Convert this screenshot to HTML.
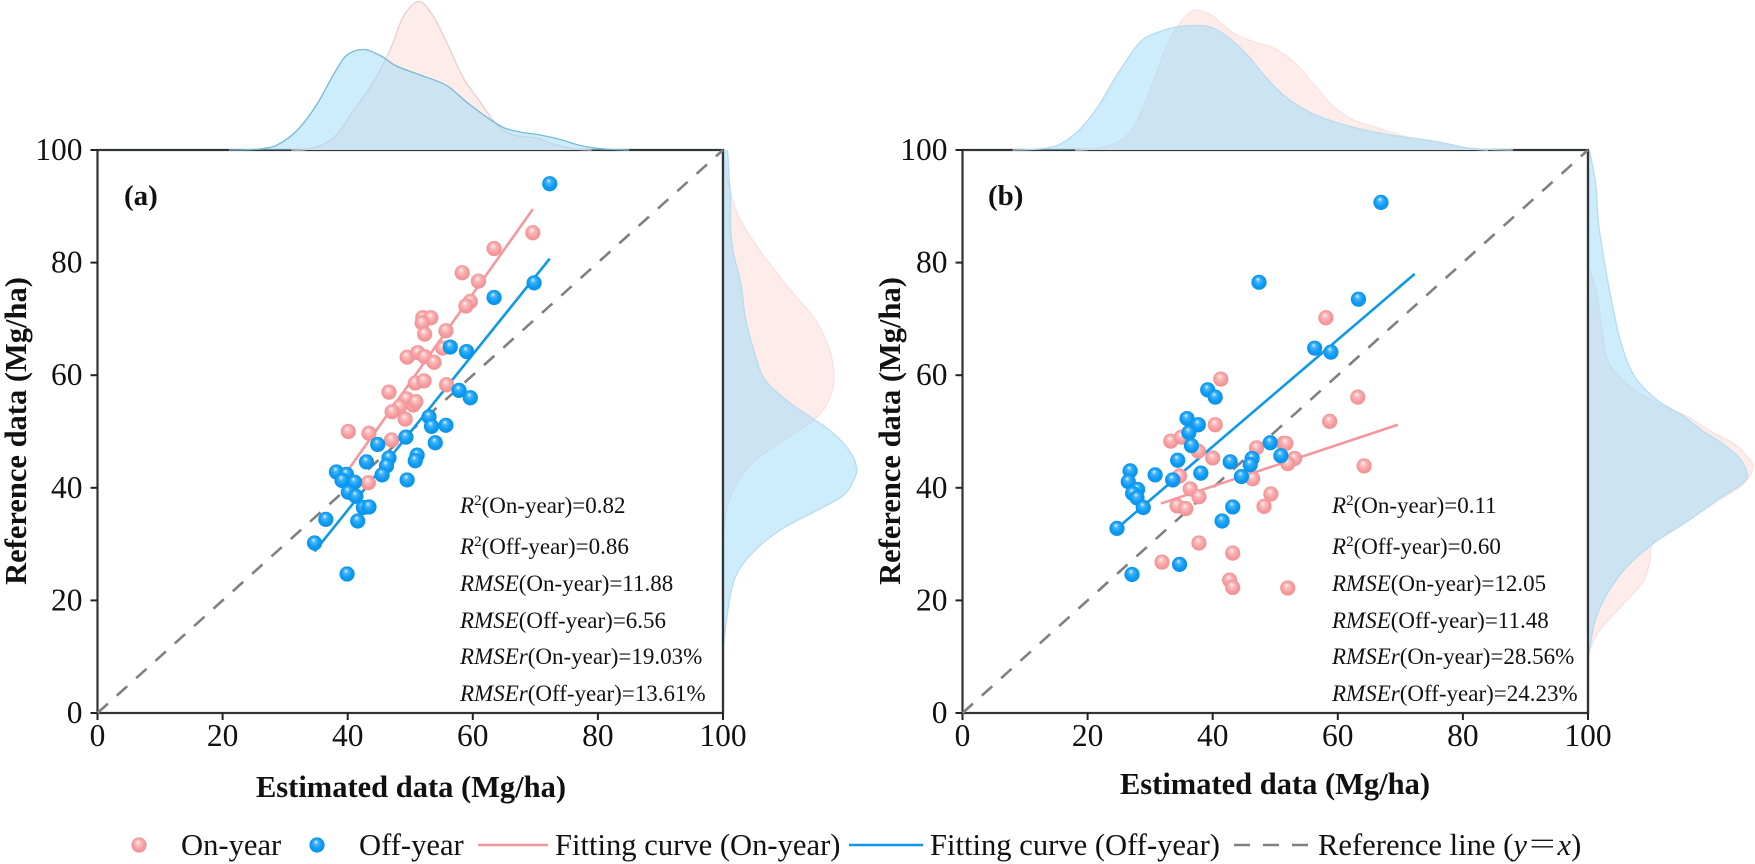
<!DOCTYPE html>
<html lang="en">
<head>
<meta charset="utf-8">
<title>Estimated vs reference data</title>
<style>
html,body{margin:0;padding:0;background:#fff;width:1755px;height:864px;overflow:hidden}
svg{display:block}
text{font-family:"Liberation Serif","Noto Serif CJK SC",serif;fill:#111}
.tick{font-size:31.5px}
.title{font-size:30.5px;font-weight:bold;text-anchor:middle}
.tag{font-size:29px;font-weight:bold}
.stat{font-size:23px}
.stat tspan.i{font-style:italic}
.leg{font-size:30.6px}
</style>
</head>
<body>
<svg id="chart" xmlns="http://www.w3.org/2000/svg" width="1755" height="864" viewBox="0 0 1755 864">
<defs>
<radialGradient id="ball-on" cx="0.5" cy="0.5" r="0.55" fx="0.42" fy="0.3">
<stop offset="0" stop-color="#fff4f4"/><stop offset="0.3" stop-color="#fabcbd"/><stop offset="0.7" stop-color="#f59a9c"/><stop offset="1" stop-color="#ef8f92"/>
</radialGradient>
<radialGradient id="ball-off" cx="0.5" cy="0.5" r="0.55" fx="0.42" fy="0.28">
<stop offset="0" stop-color="#e2f5ff"/><stop offset="0.27" stop-color="#45b4f8"/><stop offset="0.65" stop-color="#0c9bf4"/><stop offset="1" stop-color="#0b8fe4"/>
</radialGradient>
</defs>
<g id="layer-a"></g>
<g id="layer-b"></g>

<text class="tag" x="124" y="205">(a)</text>
<text class="tag" x="988" y="205">(b)</text>
<text class="title" x="411" y="797">Estimated data (Mg/ha)</text>
<text class="title" x="1275" y="794">Estimated data (Mg/ha)</text>
<text class="title" transform="translate(26 431) rotate(-90)">Reference data (Mg/ha)</text>
<text class="title" transform="translate(900 431) rotate(-90)">Reference data (Mg/ha)</text>

<g>
<text class="stat" x="460" y="513"><tspan class="i">R</tspan><tspan dy="-8" font-size="15">2</tspan><tspan dy="8">(On-year)=0.82</tspan></text>
<text class="stat" x="460" y="554"><tspan class="i">R</tspan><tspan dy="-8" font-size="15">2</tspan><tspan dy="8">(Off-year)=0.86</tspan></text>
<text class="stat" x="460" y="591"><tspan class="i">RMSE</tspan>(On-year)=11.88</text>
<text class="stat" x="460" y="628"><tspan class="i">RMSE</tspan>(Off-year)=6.56</text>
<text class="stat" x="460" y="664"><tspan class="i">RMSEr</tspan>(On-year)=19.03%</text>
<text class="stat" x="460" y="701"><tspan class="i">RMSEr</tspan>(Off-year)=13.61%</text>
</g>
<g>
<text class="stat" x="1332" y="513"><tspan class="i">R</tspan><tspan dy="-8" font-size="15">2</tspan><tspan dy="8">(On-year)=0.11</tspan></text>
<text class="stat" x="1332" y="554"><tspan class="i">R</tspan><tspan dy="-8" font-size="15">2</tspan><tspan dy="8">(Off-year)=0.60</tspan></text>
<text class="stat" x="1332" y="591"><tspan class="i">RMSE</tspan>(On-year)=12.05</text>
<text class="stat" x="1332" y="628"><tspan class="i">RMSE</tspan>(Off-year)=11.48</text>
<text class="stat" x="1332" y="664"><tspan class="i">RMSEr</tspan>(On-year)=28.56%</text>
<text class="stat" x="1332" y="701"><tspan class="i">RMSEr</tspan>(Off-year)=24.23%</text>
</g>

<g>
<g>
<circle cx="139" cy="845" r="7.6" fill="url(#ball-on)"/>
<text class="leg" x="181" y="855">On-year</text>
</g>
<g>
<circle cx="317" cy="845" r="7.6" fill="url(#ball-off)"/>
<text class="leg" x="359" y="855">Off-year</text>
</g>
<g>
<line x1="478" y1="845" x2="548" y2="845" stroke="#f5989d" stroke-width="2.6"/>
<text class="leg" x="555" y="855">Fitting curve (On-year)</text>
</g>
<g>
<line x1="849" y1="845" x2="923" y2="845" stroke="#0f98ea" stroke-width="2.6"/>
<text class="leg" x="930" y="855">Fitting curve (Off-year)</text>
</g>
<g>
<line x1="1234" y1="845" x2="1309" y2="845" stroke="#808080" stroke-width="2.6" stroke-dasharray="16 13"/>
<text class="leg" x="1318" y="855">Reference line (<tspan font-style="italic">y</tspan>＝<tspan font-style="italic">x</tspan>)</text>
</g>
</g>
</svg>
<script>
// ---- axis ticks ----
const xTicks = [0, 20, 40, 60, 80, 100];
const yTicks = [0, 20, 40, 60, 80, 100];

// ---- panel (a) scatter ----
const aOnX = [69.6,63.4,58.3,60.9,59.6,58.9,52.0,53.3,51.9,55.7,52.3,55.2,49.5,51.2,52.3,53.8,50.8,52.2,55.8,46.6,49.4,50.5,50.9,48.3,47.1,49.2,40.1,43.4,47.0,43.3];
const aOnY = [85.3,82.5,78.2,76.7,73.1,72.3,70.2,70.2,69.3,67.9,67.3,64.8,63.2,64.0,63.3,62.3,58.6,59.0,58.3,57.0,55.8,54.7,55.3,54.4,53.5,52.2,50.0,49.7,48.5,40.9];
const aOffX = [72.3,69.8,63.4,56.4,59.0,57.8,59.6,53.0,53.4,55.7,49.3,44.8,54.0,51.1,50.8,46.6,46.2,45.5,43.0,49.5,38.2,39.8,39.1,41.1,40.1,41.3,42.5,43.4,36.5,41.6,34.7,39.9];
const aOffY = [94.0,76.4,73.8,65.0,64.2,57.3,56.0,52.6,50.9,51.1,49.0,47.7,48.0,45.8,44.8,45.3,43.9,42.3,44.6,41.4,42.8,42.4,41.3,41.0,39.2,38.5,36.5,36.6,34.4,34.1,30.2,24.7];
const aFitOnX = [40.1, 69.6];
const aFitOnY = [43.2, 89.5];
const aFitOffX = [34.7, 72.3];
const aFitOffY = [28.7, 80.7];

// ---- panel (b) scatter ----
const bOnX = [58.1,41.3,40.4,63.2,58.7,33.3,35.0,37.7,40.0,47.0,51.3,51.7,53.1,52.0,46.4,34.7,33.7,36.4,37.8,49.3,48.2,34.3,35.7,37.8,43.2,31.9,42.7,43.2,52.0,64.2];
const bOnY = [70.2,59.3,51.2,56.1,51.8,48.3,49.0,46.5,45.3,47.1,47.9,47.9,45.2,44.3,41.6,42.1,41.4,39.8,38.4,38.9,36.7,36.8,36.3,30.2,28.4,26.8,23.6,22.3,22.2,43.9];
const bOffX = [66.9,47.4,63.3,56.3,58.9,39.2,40.4,35.9,37.7,36.2,36.6,34.4,49.2,50.9,46.3,46.0,44.6,42.8,38.1,30.8,33.6,26.8,26.5,28.0,27.2,27.9,28.9,24.7,43.2,41.5,34.7,27.1];
const bOffY = [90.7,76.5,73.5,64.8,64.1,57.4,56.1,52.3,51.2,49.8,47.5,44.9,48.0,45.7,45.2,44.1,42.0,44.6,42.6,42.3,41.4,43.0,41.1,39.7,39.0,38.2,36.5,32.8,36.6,34.1,26.4,24.6];
const bFitOnX = [31.7, 69.6];
const bFitOnY = [37.2, 51.2];
const bFitOffX = [24.7, 72.3];
const bFitOffY = [32.8, 78.0];

// ---- marginal densities (relative density, read at the listed data values) ----
const aTopOnV = [31,34,37.7,40.9,44.1,46.8,48.9,51.4,53.7,55.8,58.5,61.2,63.8,66.5,70.2,72.9,76.1,79];
const aTopOnD = [0,0.8,8,26,45,67,89,99,89,72,48,32,17,10,8,4,0.8,0];
const aTopOffV = [21,24,26.5,28.7,31.9,35,37.7,39.8,42.5,45.2,47.8,51.6,55.8,59,62.2,64.9,67.6,70.8,74,77.2,80.9,85];
const aTopOffD = [0,0.2,1,3.3,13,30,50,63,67,63,56,50,43,32,22,15,12,10,7,3,0.7,0];
const aRightOnV = [29,31.5,36.9,41.6,45,48.4,51.9,55.2,59.2,63,66,70.1,74.8,81.6,88.4,95,100];
const aRightOnD = [0,0.5,3,11,22,40,60,70,74,72.5,69,61,46,26,10,3,0];
const aRightOffV = [9.8,15.9,24,29.1,32.8,35.9,38.6,41.3,43.7,46.7,49.8,52.1,55.2,59.2,64,70,76.2,81.6,86.3,91,95.8,100];
const aRightOffD = [0,2,8,22,40,62,80,87,89,84,73,61,44,28,21,15,12,7,5,5,4,3];

const bTopOnV = [18,20.9,24.7,27.3,30,32.6,34.8,36.4,38,40.1,43.3,46,49.7,52.9,56.1,59.3,62.5,66.2,70,75.3,80.6,84];
const bTopOnD = [0,0.7,5,15,40,69,85,92,93,89,78,73,68,59,44,29,20,15,10,5,1,0];
const bTopOffV = [8,11.9,15.1,18.3,21.5,24.7,28.4,31.6,34.2,36.9,39.6,42.2,45.4,48.6,51.8,55.6,59.3,64.6,70,75.3,80.6,84,88];
const bTopOffD = [0,0.6,3,12,28,50,72,79,82,83,82,76,64,48,35,25,19,13,9,6,1.5,0.4,0];
const bRightOnV = [8.9,11.8,14.8,18.9,23.1,26.6,30.5,33.7,37.6,40.5,43.5,45.3,47.9,50,52.7,55,58,62.1,66.9,74,79.9];
const bRightOnD = [0,2,8,22,36,41,44,64,86,103,110,107,97,82,66,46,28,14,10,6,0];
const bRightOffV = [7.7,11.2,16.6,21.3,26,30.2,34,38.2,40.8,42.6,45.6,48.5,50,53,55.6,59.8,65.7,72.8,79.9,87,94.1,99.9];
const bRightOffD = [0,1,5,13,26,44,66,88,103,106,100,86,77,62,46,31,22,16,11,7,5,1];

const NS = 'http://www.w3.org/2000/svg';
const PLOT_W = 625.5, PLOT_H = 563, BOTTOM = 713, TOP = 150;
const DENSITY_PX = 1.5;
const DOMAIN = 100;

function make(parent, tag, name, attrs) {
  const el = document.createElementNS(NS, tag);
  for (const k in attrs) el.setAttribute(k, attrs[k]);
  
  
  parent.appendChild(el);
  return el;
}

function smooth(pts) {
  let d = 'M' + pts[0][0].toFixed(1) + ' ' + pts[0][1].toFixed(1);
  for (let i = 0; i < pts.length - 1; i++) {
    const p0 = pts[Math.max(0, i - 1)], p1 = pts[i], p2 = pts[i + 1], p3 = pts[Math.min(pts.length - 1, i + 2)];
    const c1x = p1[0] + (p2[0] - p0[0]) / 6, c1y = p1[1] + (p2[1] - p0[1]) / 6;
    const c2x = p2[0] - (p3[0] - p1[0]) / 6, c2y = p2[1] - (p3[1] - p1[1]) / 6;
    d += 'C' + c1x.toFixed(1) + ' ' + c1y.toFixed(1) + ' ' + c2x.toFixed(1) + ' ' + c2y.toFixed(1) + ' ' + p2[0].toFixed(1) + ' ' + p2[1].toFixed(1);
  }
  return d;
}

function drawPanel(id, left, s) {
  const g = document.getElementById(id);
  const xs = v => left + v / DOMAIN * PLOT_W;
  const ys = v => BOTTOM - v / DOMAIN * PLOT_H;
  const right = xs(DOMAIN);

  // frame
  make(g, 'rect', s.key + '-plot-frame', {x: left, y: TOP, width: PLOT_W, height: PLOT_H, fill: 'none', stroke: '#2f3438', 'stroke-width': 2.2});

  // ticks and tick labels
  xTicks.forEach(t => {
    make(g, 'line', s.key + '-x-tick', {x1: xs(t), x2: xs(t), y1: BOTTOM, y2: BOTTOM + 7, stroke: '#222', 'stroke-width': 2});
    const lab = make(g, 'text', s.key + '-x-tick-label', {x: xs(t), y: 746, 'text-anchor': 'middle', class: 'tick'});
    lab.textContent = t;
  });
  yTicks.forEach(t => {
    make(g, 'line', s.key + '-y-tick', {x1: left - 7, x2: left, y1: ys(t), y2: ys(t), stroke: '#222', 'stroke-width': 2});
    const lab = make(g, 'text', s.key + '-y-tick-label', {x: left - 15, y: ys(t) + 10, 'text-anchor': 'end', class: 'tick'});
    lab.textContent = t;
  });

  // marginal densities
  const topPts = (V, D) => V.map((v, i) => [xs(v), TOP - D[i] * DENSITY_PX]);
  const rightPts = (V, D) => V.map((v, i) => [right + D[i] * DENSITY_PX, ys(v)]);

  const area = (name, pts, fill, stroke, closeA, closeB) => {
    const line = smooth(pts);
    make(g, 'path', name + '-fill', {d: line + 'L' + closeA + 'L' + closeB + 'Z', fill: fill, stroke: 'none'});
    make(g, 'path', name + '-outline', {d: line, fill: 'none', stroke: stroke, 'stroke-width': 1.3});
  };

  const tOn = topPts(s.topOnV, s.topOnD), tOff = topPts(s.topOffV, s.topOffD);
  const rOn = rightPts(s.rightOnV, s.rightOnD), rOff = rightPts(s.rightOffV, s.rightOffD);
  const cl = p => p[0] + ' ' + p[1];

  area(s.key + '-top-density-on-year', tOn, '#fdecea', s.topOnStroke, cl([tOn[tOn.length - 1][0], TOP]), cl([tOn[0][0], TOP]));
  area(s.key + '-top-density-off-year', tOff, 'rgba(155,217,249,0.5)', s.topOffStroke, cl([tOff[tOff.length - 1][0], TOP]), cl([tOff[0][0], TOP]));
  area(s.key + '-right-density-on-year', rOn, '#fdecea', '#f6e2e1', cl([right, rOn[rOn.length - 1][1]]), cl([right, rOn[0][1]]));
  area(s.key + '-right-density-off-year', rOff, 'rgba(155,217,249,0.5)', '#b7dcee', cl([right, rOff[rOff.length - 1][1]]), cl([right, rOff[0][1]]));

  // right spine stays dark above the right-hand density fills
  make(g, 'line', s.key + '-right-spine', {x1: right, x2: right, y1: TOP, y2: BOTTOM, stroke: '#2f3438', 'stroke-width': 2.2});

  // reference line
  make(g, 'line', s.key + '-reference-line', {x1: xs(0), y1: ys(0), x2: xs(DOMAIN), y2: ys(DOMAIN), stroke: '#808080', 'stroke-width': 2.6, 'stroke-dasharray': '14 12'});

  // fitted lines
  make(g, 'line', s.key + '-fit-line-on-year', {x1: xs(s.fitOnX[0]), y1: ys(s.fitOnY[0]), x2: xs(s.fitOnX[1]), y2: ys(s.fitOnY[1]), stroke: '#f5989d', 'stroke-width': 2.6});
  make(g, 'line', s.key + '-fit-line-off-year', {x1: xs(s.fitOffX[0]), y1: ys(s.fitOffY[0]), x2: xs(s.fitOffX[1]), y2: ys(s.fitOffY[1]), stroke: '#0f98ea', 'stroke-width': 2.6});

  // points
  s.onX.forEach((v, i) => {
    make(g, 'circle', s.key + '-point-on-year', {cx: xs(v), cy: ys(s.onY[i]), r: 7.6, fill: 'url(#ball-on)'});
  });
  s.offX.forEach((v, i) => {
    make(g, 'circle', s.key + '-point-off-year', {cx: xs(v), cy: ys(s.offY[i]), r: 7.6, fill: 'url(#ball-off)'});
  });
}

drawPanel('layer-a', 97.5, {
  key: 'panel-a', onX: aOnX, onY: aOnY, offX: aOffX, offY: aOffY,
  fitOnX: aFitOnX, fitOnY: aFitOnY, fitOffX: aFitOffX, fitOffY: aFitOffY,
  topOnV: aTopOnV, topOnD: aTopOnD, topOffV: aTopOffV, topOffD: aTopOffD,
  rightOnV: aRightOnV, rightOnD: aRightOnD, rightOffV: aRightOffV, rightOffD: aRightOffD,
  topOnStroke: '#e6d0d0', topOffStroke: '#72bcd4'
});
drawPanel('layer-b', 962.5, {
  key: 'panel-b', onX: bOnX, onY: bOnY, offX: bOffX, offY: bOffY,
  fitOnX: bFitOnX, fitOnY: bFitOnY, fitOffX: bFitOffX, fitOffY: bFitOffY,
  topOnV: bTopOnV, topOnD: bTopOnD, topOffV: bTopOffV, topOffD: bTopOffD,
  rightOnV: bRightOnV, rightOnD: bRightOnD, rightOffV: bRightOffV, rightOffD: bRightOffD,
  topOnStroke: '#f8e3e1', topOffStroke: '#b7dcee'
});
</script>
</body>
</html>
